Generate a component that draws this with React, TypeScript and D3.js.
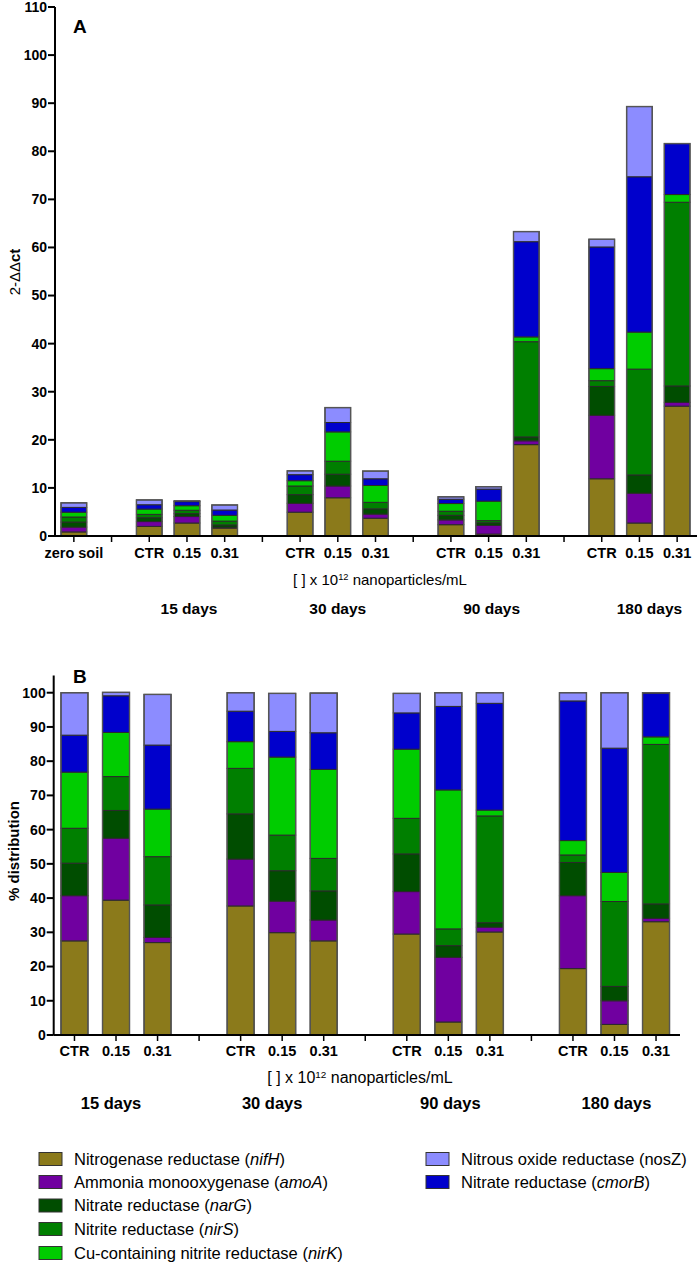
import React from "react";
import * as d3 from "d3";

// ---------- data ----------
const genes = ["nifH", "amoA", "narG", "nirS", "nirK", "cmorB", "nosZ"];
const geneColors = ["#8B7A1B", "#7000A0", "#004D00", "#007F00", "#00CC00", "#0000CC", "#8C8CFF"];
const legendNames = [
  "Nitrogenase reductase",
  "Ammonia monooxygenase",
  "Nitrate reductase",
  "Nitrite reductase",
  "Cu-containing nitrite reductase",
  "Nitrate reductase",
  "Nitrous oxide reductase",
];
const geneItalic = [true, true, true, true, true, true, false];

// Panel A: x-axis slots (empty strings are spacer slots)
const slotLabelsA = ["zero soil", "", "CTR", "0.15", "0.31", "", "CTR", "0.15", "0.31", "", "CTR", "0.15", "0.31", "", "CTR", "0.15", "0.31"];
const barSlotsA = [0, 2, 3, 4, 6, 7, 8, 10, 11, 12, 14, 15, 16];
// values (2^-ΔΔct) per gene, one per bar: zero soil, 15d CTR/0.15/0.31, 30d ..., 90d ..., 180d ...
const aNifH = [0.85, 2.0, 2.7, 1.65, 4.95, 7.95, 3.7, 2.35, 0.4, 19.0, 11.9, 2.7, 27.0];
const aAmoA = [1.0, 1.0, 1.35, 0.15, 1.85, 2.45, 0.85, 1.0, 1.8, 0.8, 13.2, 6.2, 0.8];
const aNarG = [1.05, 0.8, 0.6, 0.5, 1.8, 2.45, 1.1, 0.95, 0.55, 0.8, 6.0, 3.8, 3.4];
const aNirS = [1.05, 0.7, 0.7, 0.8, 1.8, 2.7, 1.35, 0.85, 0.45, 19.8, 1.2, 22.0, 38.2];
const aNirK = [1.0, 1.1, 0.95, 1.2, 1.1, 6.1, 3.5, 1.6, 4.05, 1.0, 2.5, 7.7, 1.6];
const aCmorB = [1.0, 0.9, 0.85, 1.1, 1.25, 1.95, 1.4, 0.9, 2.5, 19.8, 25.3, 32.3, 10.6];
const aNosZ = [0.95, 1.0, 0.15, 1.05, 0.8, 3.1, 1.6, 0.5, 0.5, 2.1, 1.6, 14.6, 0];
const yTicksA = d3.range(0, 111, 10);

// Panel B: % distribution
const slotLabelsB = ["CTR", "0.15", "0.31", "", "CTR", "0.15", "0.31", "", "CTR", "0.15", "0.31", "", "CTR", "0.15", "0.31"];
const barSlotsB = [0, 1, 2, 4, 5, 6, 8, 9, 10, 12, 13, 14];
const bNifH = [27.5, 39.4, 27.0, 37.7, 29.9, 27.5, 29.5, 3.8, 30.1, 19.4, 3.1, 33.1];
const bAmoA = [13.2, 18.1, 1.5, 13.7, 9.2, 6.1, 12.4, 18.9, 1.4, 21.3, 6.9, 1.0];
const bNarG = [9.5, 8.1, 9.5, 13.2, 8.9, 8.5, 11.0, 3.4, 1.3, 9.7, 4.2, 4.2];
const bNirS = [10.2, 9.9, 14.1, 13.3, 10.4, 9.5, 10.4, 4.9, 31.2, 2.2, 24.8, 46.6];
const bNirK = [16.4, 12.9, 13.9, 7.8, 22.8, 26.0, 20.2, 40.6, 1.7, 4.2, 8.5, 2.2];
const bCmorB = [10.8, 10.7, 18.7, 8.9, 7.5, 10.7, 10.6, 24.4, 31.2, 40.8, 36.3, 12.8];
const bNosZ = [12.4, 1.0, 14.8, 5.4, 11.1, 11.6, 5.7, 4.0, 3.1, 2.4, 16.2, 0.1];
const yTicksB = d3.range(0, 101, 10);

const dayLabels = ["15 days", "30 days", "90 days", "180 days"];
const daySlotsA = [3, 7, 11, 15];
const daySlotsB = [1, 5, 9, 13];

// ---------- layout ----------
const W = 700;
const H = 1265;
const FONT = "'Liberation Sans', Arial, Helvetica, sans-serif";
const dayNudgeA = [2, 0, 3, 10];
const dayNudgeB = [-5, -10, 2, 2];

function buildRows(series: number[][]) {
  return series[0].map((_, i) => {
    const r: any = {};
    genes.forEach((g, gi) => (r[g] = series[gi][i]));
    return r;
  });
}

const rowsA = buildRows([aNifH, aAmoA, aNarG, aNirS, aNirK, aCmorB, aNosZ]);
const rowsB = buildRows([bNifH, bAmoA, bNarG, bNirS, bNirK, bCmorB, bNosZ]);

type PanelProps = {
  rows: any[];
  slotLabels: string[];
  barSlots: number[];
  x0: number;
  x1: number;
  axisEnd: number;
  yBase: number;
  yTopPx: number;
  yMax: number;
  yTicks: number[];
  padInner: number;
  letter: string;
  letterY: number;
  tickLabelY: number;
  titleY: number;
  titleSize: number;
  dayY: number;
  daySize: number;
  daySlots: number[];
  dayNudge: number[];
  titleX: number;
  yLabel: React.ReactNode;
};

function StackPanel(p: PanelProps) {
  const x = d3
    .scaleBand<number>()
    .domain(d3.range(p.slotLabels.length))
    .range([p.x0, p.x1])
    .paddingInner(p.padInner)
    .paddingOuter(p.padInner / 2);
  const y = d3.scaleLinear().domain([0, p.yMax]).range([p.yBase, p.yTopPx]);
  const stacked = d3.stack<any>().keys(genes)(p.rows);
  const bw = x.bandwidth();
  return (
    <g>
      {stacked.map((layer, gi) => (
        <g key={genes[gi]}>
          {layer.map((d, bi) => {
            const h = y(d[0]) - y(d[1]);
            if (h <= 0.05) return null;
            return (
              <rect
                key={bi}
                x={x(p.barSlots[bi])!}
                y={y(d[1])}
                width={bw}
                height={h}
                fill={geneColors[gi]}
                stroke="#2a2a2a"
                strokeWidth={1}
              />
            );
          })}
        </g>
      ))}
      {p.rows.map((r, bi) => {
        const total = d3.sum(genes, (g) => r[g]);
        return (
          <rect
            key={"o" + bi}
            x={x(p.barSlots[bi])!}
            y={y(total)}
            width={bw}
            height={y(0) - y(total)}
            fill="none"
            stroke="#555"
            strokeWidth={1.4}
          />
        );
      })}
      <line x1={p.x0} x2={p.x0} y1={p.yTopPx} y2={p.yBase} stroke="#000" strokeWidth={2} />
      {p.yTicks.map((t) => (
        <g key={"yt" + t}>
          <line x1={p.x0 - 7} x2={p.x0} y1={y(t)} y2={y(t)} stroke="#000" strokeWidth={2} />
          <text
            x={p.x0 - 8}
            y={y(t)}
            dy="0.35em"
            textAnchor="end"
            fontSize={14}
            fontWeight="bold"
            fontFamily={FONT}
          >
            {t}
          </text>
        </g>
      ))}
      <line x1={p.x0} x2={p.axisEnd} y1={p.yBase} y2={p.yBase} stroke="#000" strokeWidth={2} />
      {p.slotLabels.map((lab, i) => {
        const cx = x(i)! + bw / 2;
        return (
          <g key={"xt" + i}>
            <line x1={cx} x2={cx} y1={p.yBase} y2={p.yBase + 6} stroke="#000" strokeWidth={1.5} />
            {lab && (
              <text
                x={cx}
                y={p.tickLabelY}
                dy="0.35em"
                textAnchor="middle"
                fontSize={14.5}
                fontWeight="bold"
                fontFamily={FONT}
              >
                {lab}
              </text>
            )}
          </g>
        );
      })}
      <text x={73} y={p.letterY} dy="0.35em" fontSize={19} fontWeight="bold" fontFamily={FONT}>
        {p.letter}
      </text>
      <text x={p.titleX} y={p.titleY} dy="0.35em" textAnchor="middle" fontSize={p.titleSize} fontFamily={FONT}>
        [ ] x 10
        <tspan fontSize={p.titleSize * 0.62} dy={-5}>
          12
        </tspan>
        <tspan dy={5}> nanoparticles/mL</tspan>
      </text>
      {dayLabels.map((d, i) => (
        <text
          key={d}
          x={x(p.daySlots[i])! + bw / 2 + p.dayNudge[i]}
          y={p.dayY}
          dy="0.35em"
          textAnchor="middle"
          fontSize={p.daySize}
          fontWeight="bold"
          fontFamily={FONT}
        >
          {d}
        </text>
      ))}
      {p.yLabel}
    </g>
  );
}

function Legend() {
  const leftX = 39;
  const rightX = 426;
  const rowY = [1159, 1182, 1205.5, 1229, 1253];
  const items = genes.map((g, i) => {
    const isLeft = i < 5;
    const sx = isLeft ? leftX : rightX;
    const sy = isLeft ? rowY[i] : i === 6 ? rowY[0] : rowY[1];
    return { g, i, sx, sy };
  });
  return (
    <g>
      {items.map(({ g, i, sx, sy }) => (
        <g key={g}>
          <rect x={sx} y={sy - 6.5} width={23} height={13} fill={geneColors[i]} stroke="#333" strokeWidth={1} />
          <text x={sx + 35} y={sy} dy="0.35em" fontSize={16.5} fontFamily={FONT}>
            {legendNames[i]} (
            <tspan fontStyle={geneItalic[i] ? "italic" : "normal"}>{g}</tspan>)
          </text>
        </g>
      ))}
    </g>
  );
}

export default function App() {
  return (
    <svg
      width={W}
      height={H}
      viewBox={`0 0 ${W} ${H}`}
      style={{ position: "absolute", left: 0, top: 0, background: "#fff" }}
    >
      <rect width={W} height={H} fill="#fff" />
      <StackPanel
        rows={rowsA}
        slotLabels={slotLabelsA}
        barSlots={barSlotsA}
        x0={55}
        x1={696}
        axisEnd={697}
        yBase={536}
        yTopPx={7}
        yMax={110}
        yTicks={yTicksA}
        padInner={0.32}
        letter="A"
        letterY={26}
        tickLabelY={553}
        titleY={580}
        titleSize={15}
        dayY={609}
        daySize={15.5}
        daySlots={daySlotsA}
        dayNudge={dayNudgeA}
        titleX={380}
        yLabel={
          <text
            transform="translate(15,272) rotate(-90)"
            textAnchor="middle"
            dy="0.35em"
            fontSize={15}
            fontFamily={FONT}
          >
            2-ΔΔ<tspan fontWeight="bold">ct</tspan>
          </text>
        }
      />
      <StackPanel
        rows={rowsB}
        slotLabels={slotLabelsB}
        barSlots={barSlotsB}
        x0={53.7}
        x1={676.8}
        axisEnd={680}
        yBase={1035}
        yTopPx={675.6}
        yMax={105}
        yTicks={yTicksB}
        padInner={0.35}
        letter="B"
        letterY={676}
        tickLabelY={1051}
        titleY={1077}
        titleSize={16}
        dayY={1103}
        daySize={16.5}
        daySlots={daySlotsB}
        dayNudge={dayNudgeB}
        titleX={360}
        yLabel={
          <text
            transform="translate(14,851) rotate(-90)"
            textAnchor="middle"
            dy="0.35em"
            fontSize={15}
            fontWeight="bold"
            fontFamily={FONT}
          >
            % distribution
          </text>
        }
      />
      <Legend />
    </svg>
  );
}
